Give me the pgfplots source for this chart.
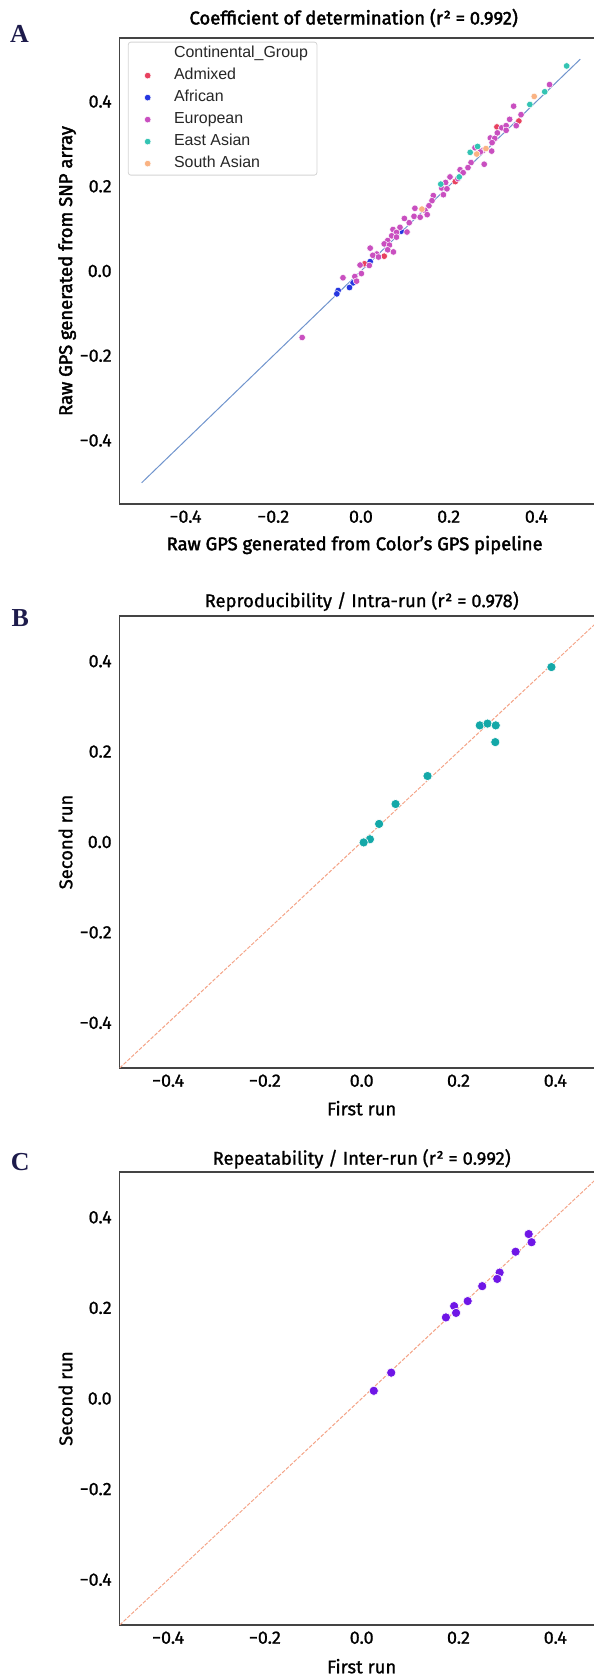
\documentclass[border=0pt]{standalone}
\usepackage{fontspec}
\setmainfont{Fira Sans}[FakeBold=1]
\newfontfamily\firamed{Fira Sans}[FakeBold=2.2]
\newfontfamily\legfont{Liberation Sans}
\newfontfamily\letfont{Liberation Serif}
\usepackage{pgfplots}
\pgfplotsset{compat=1.18}

\definecolor{admixed}{HTML}{E8415F}
\definecolor{african}{HTML}{2536E0}
\definecolor{european}{HTML}{C94FC0}
\definecolor{eastasian}{HTML}{33C4B3}
\definecolor{southasian}{HTML}{FAB383}
\definecolor{fitblue}{HTML}{7094CD}
\definecolor{salmon}{HTML}{F4A387}
\definecolor{tealpt}{HTML}{14A8A8}
\definecolor{violetpt}{HTML}{6F16E6}
\definecolor{spine}{HTML}{444444}
\definecolor{letcol}{HTML}{1D1B4B}
\definecolor{legframe}{HTML}{D4D4D4}

\pgfplotsset{
  gps/.style={
    scale only axis,
    anchor=south west,
    axis line style={draw=spine, line width=1.3bp},
    major tick length=0pt,
    xtick={-0.4,-0.2,0,0.2,0.4},
    xticklabels={−0.4,−0.2,0.0,0.2,0.4},
    ytick={-0.4,-0.2,0,0.2,0.4},
    yticklabels={−0.4,−0.2,0.0,0.2,0.4},
    tick label style={font=\fontsize{18}{21}\selectfont},
    xticklabel shift=3bp,
    yticklabel shift=4.5bp,
    label style={font=\fontsize{18.5}{22}\selectfont},
    every axis title shift=0pt,
    title style={font=\fontsize{18.5}{22}\selectfont, anchor=center},
    xlabel style={anchor=center},
    ylabel style={anchor=center},
  },
  grp/.style={only marks, mark=*, mark size=3.3bp,
    mark options={draw=white, line width=0.5bp, fill=#1}},
  run/.style={only marks, mark=*, mark size=4.6bp,
    mark options={draw=white, line width=0.6bp, fill=#1}},
}

\begin{document}
\begin{tikzpicture}

% ---- A ----
\begin{axis}[gps, name=pa,
  at={(119.7bp,1172bp)}, width=482.5bp, height=466bp,
  xmin=-0.55, xmax=0.55, ymin=-0.55, ymax=0.55,
  title={Coefficient of determination (r² = 0.992)},
  title style={at={(axis description cs:0.485,1.043)}, font=\firamed\fontsize{18.5}{22}\selectfont},
  xlabel={Raw GPS generated from Color’s GPS pipeline},
  xlabel style={at={(axis description cs:0.487,-0.088)}, font=\firamed\fontsize{18.5}{22}\selectfont},
  ylabel={Raw GPS generated from SNP array},
  ylabel style={at={(axis description cs:-0.109,0.5)}, font=\firamed\fontsize{18.5}{22}\selectfont},
  legend cell align=left,
  legend style={at={(axis description cs:0.017,0.992)}, anchor=north west,
    draw=legframe, line width=0.8bp, rounded corners=2.5bp, fill=white,
    font=\legfont\fontsize{16}{18}\selectfont, text=black!85,
    inner xsep=8bp, inner ysep=4bp, row sep=7bp, column sep=0bp,
    nodes={inner xsep=1bp, inner ysep=0bp, text height=11.5bp, text depth=3.5bp}},
  legend image code/.code={%
    \path (-11bp,0bp) (25bp,0bp);
    \draw[#1] plot coordinates {(0bp,0bp)};},
]
\addlegendimage{only marks, mark=*, mark size=3.3bp, mark options={draw=white, fill=white}}
\addlegendentry{Continental\_Group}

\addplot[grp=admixed] coordinates {
(0.360,0.354) (0.310,0.340) (0.215,0.211) (0.053,0.035) (0.008,0.017)
};
\addlegendentry{Admixed}

\addplot[grp=african] coordinates {
(0.092,0.094) (0.021,0.022) (-0.018,-0.028) (-0.026,-0.039)
(-0.052,-0.046) (-0.055,-0.054)
};
\addlegendentry{African}

\addplot[grp=european] coordinates {
(0.430,0.440) (0.348,0.389) (0.365,0.369) (0.339,0.358) (0.321,0.338)
(0.331,0.343) (0.354,0.343) (0.331,0.332) (0.311,0.326) (0.295,0.314)
(0.305,0.313) (0.299,0.303) (0.260,0.291) (0.279,0.285) (0.298,0.283)
(0.272,0.281) (0.281,0.252) (0.251,0.256) (0.244,0.244) (0.226,0.239)
(0.233,0.232) (0.203,0.222) (0.221,0.218) (0.193,0.209) (0.184,0.196)
(0.196,0.194) (0.188,0.180) (0.165,0.178) (0.162,0.166) (0.155,0.154)
(0.123,0.148) (0.146,0.143) (0.151,0.133) (0.121,0.129) (0.135,0.127)
(0.110,0.114) (0.099,0.124) (0.089,0.103) (0.073,0.098) (0.105,0.092)
(0.081,0.091) (0.070,0.083) (0.081,0.080) (0.061,0.072) (0.053,0.064)
(0.065,0.061) (0.021,0.054) (0.061,0.050) (0.074,0.045) (0.036,0.040)
(0.027,0.037) (0.040,0.033) (-0.002,0.014) (0.019,0.013) (0.001,-0.006)
(-0.014,-0.013) (-0.010,-0.024) (-0.041,-0.016) (-0.134,-0.157)
};
\addlegendentry{European}

\addplot[grp=eastasian] coordinates {
(0.469,0.484) (0.419,0.423) (0.385,0.393) (0.266,0.294) (0.249,0.280)
(0.224,0.222) (0.182,0.205)
};
\addlegendentry{East Asian}

\addplot[grp=southasian] coordinates {
(0.395,0.412) (0.285,0.289) (0.264,0.276) (0.139,0.146)
};
\addlegendentry{South Asian}

\addplot[fitblue, line width=1bp, forget plot] coordinates {(-0.5,-0.5) (0.5,0.5)};
\end{axis}

% ---- B ----
\begin{axis}[gps, name=pb,
  at={(119.7bp,608bp)}, width=484bp, height=452bp,
  xmin=-0.5, xmax=0.5, ymin=-0.5, ymax=0.5,
  title={Reproducibility / Intra-run (r² = 0.978)},
  title style={at={(axis description cs:0.5,1.0325)}},
  xlabel={First run},
  xlabel style={at={(axis description cs:0.5,-0.089)}},
  ylabel={Second run},
  ylabel style={at={(axis description cs:-0.112,0.5)}},
]
\addplot[salmon, line width=1bp, dash pattern=on 3.7bp off 1.6bp] coordinates {(-0.5,-0.5) (0.5,0.5)};
\addplot[run=tealpt] coordinates {
(0.392,0.387) (0.244,0.258) (0.260,0.262) (0.277,0.258) (0.276,0.221)
(0.136,0.146) (0.070,0.084) (0.036,0.040) (0.017,0.006) (0.004,-0.001)
};
\end{axis}

% ---- C ----
\begin{axis}[gps, name=pc,
  at={(119.7bp,51bp)}, width=484bp, height=453bp,
  xmin=-0.5, xmax=0.5, ymin=-0.5, ymax=0.5,
  title={Repeatability / Inter-run (r² = 0.992)},
  title style={at={(axis description cs:0.5,1.029)}},
  xlabel={First run},
  xlabel style={at={(axis description cs:0.5,-0.091)}},
  ylabel={Second run},
  ylabel style={at={(axis description cs:-0.112,0.5)}},
]
\addplot[salmon, line width=1bp, dash pattern=on 3.7bp off 1.6bp] coordinates {(-0.5,-0.5) (0.5,0.5)};
\addplot[run=violetpt] coordinates {
(0.345,0.363) (0.351,0.345) (0.318,0.324) (0.285,0.278) (0.280,0.264)
(0.249,0.248) (0.219,0.215) (0.191,0.204) (0.195,0.189) (0.174,0.179)
(0.061,0.057) (0.025,0.017)
};
\end{axis}

\node[font=\letfont\bfseries\fontsize{26}{26}\selectfont, text=letcol]
  at ([xshift=-100.2bp, yshift=4bp]pa.north west) {A};
\node[font=\letfont\bfseries\fontsize{26}{26}\selectfont, text=letcol]
  at ([xshift=-99.5bp, yshift=-2bp]pb.north west) {B};
\node[font=\letfont\bfseries\fontsize{26}{26}\selectfont, text=letcol]
  at ([xshift=-99.5bp, yshift=10bp]pc.north west) {C};

\pgfresetboundingbox
\path[use as bounding box] (0bp,0bp) rectangle (594bp,1676bp);
\end{tikzpicture}
\end{document}
